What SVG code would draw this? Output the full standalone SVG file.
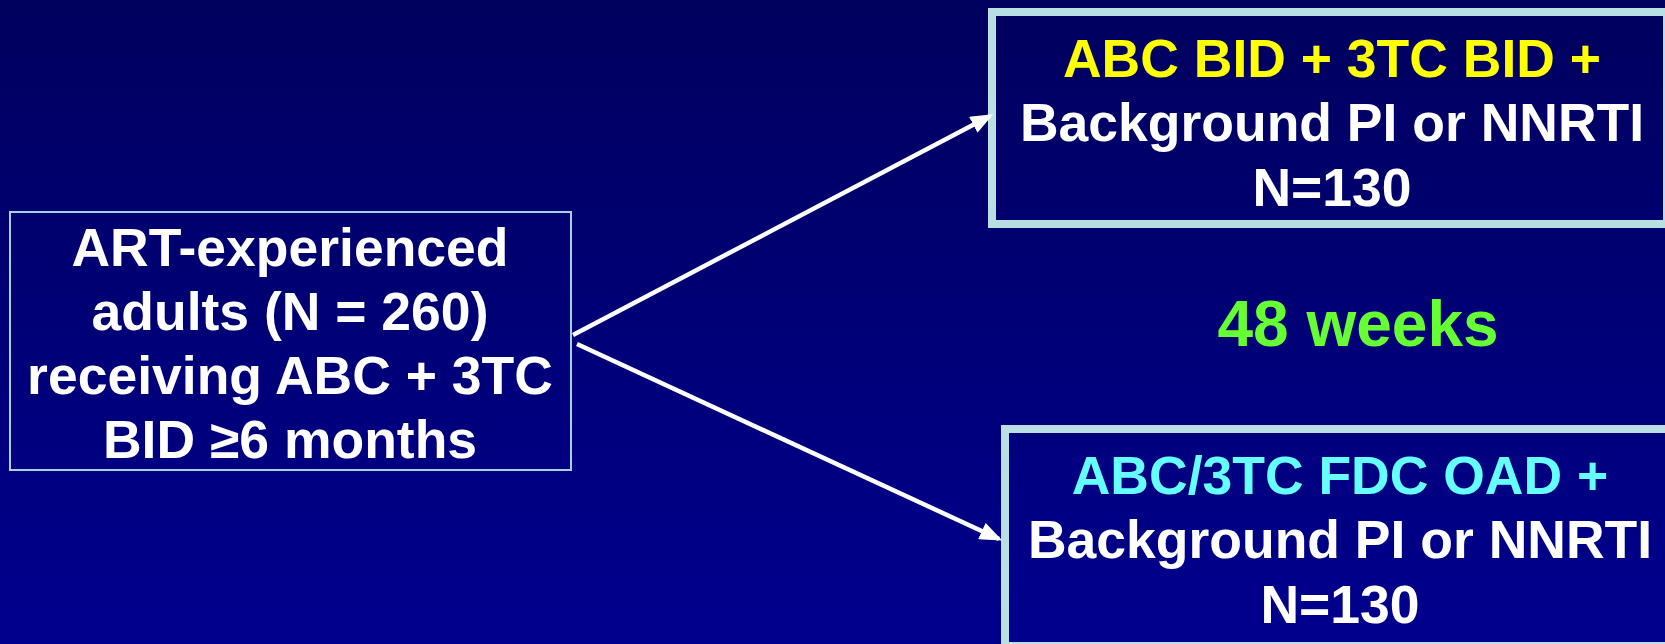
<svg xmlns="http://www.w3.org/2000/svg" width="1665" height="644" viewBox="0 0 1665 644">
  <defs>
    <linearGradient id="bg" x1="0" y1="0" x2="0" y2="1">
      <stop offset="0" stop-color="#00005E"/>
      <stop offset="1" stop-color="#00008E"/>
    </linearGradient>
    <marker id="arrow" markerWidth="5" markerHeight="4" refX="4.2" refY="2" orient="auto" markerUnits="strokeWidth">
      <path d="M0,0 L5,2 L0,4 Z" fill="#FFFFFF"/>
    </marker>
  </defs>
  <style>
    text { font-family: "Liberation Sans", Arial, sans-serif; font-weight: bold; text-anchor: middle; }
    .t { font-size: 53.5px; fill: #FFFFFF; }
    .yel { fill: #FFFF00; }
    .cyan { fill: #66FFFF; }
    .green { font-size: 64px; fill: #66FF33; }
    .thin { fill: none; stroke: #A8D0E4; stroke-width: 2; }
    .thick { fill: none; stroke: #B8E0E4; stroke-width: 8; }
    .conn { stroke: #FFFFFF; stroke-width: 4.5; fill: none; }
  </style>
  <rect x="0" y="0" width="1665" height="644" fill="url(#bg)"/>

  <g id="source">
    <rect class="thin" x="10" y="212" width="561" height="258"/>
    <text class="t" x="290" y="266">ART-experienced</text>
    <text class="t" x="290" y="330">adults (N = 260)</text>
    <text class="t" x="290" y="394">receiving ABC + 3TC</text>
    <text class="t" x="290" y="458">BID ≥6 months</text>
  </g>

  <g id="arm-bid">
    <rect class="thick" x="992" y="12" width="675" height="212"/>
    <text class="t yel" x="1332" y="77">ABC BID + 3TC BID +</text>
    <text class="t" x="1332" y="141">Background PI or NNRTI</text>
    <text class="t" x="1332" y="206">N=130</text>
  </g>

  <g id="duration">
    <text class="green" x="1358" y="346">48 weeks</text>
  </g>

  <g id="arm-oad">
    <rect class="thick" x="1005" y="429" width="670" height="217"/>
    <text class="t cyan" x="1340" y="494">ABC/3TC FDC OAD +</text>
    <text class="t" x="1340" y="558">Background PI or NNRTI</text>
    <text class="t" x="1340" y="623">N=130</text>
  </g>

  <g id="connectors">
    <line class="conn" x1="573" y1="335" x2="990" y2="116" marker-end="url(#arrow)"/>
    <line class="conn" x1="577" y1="344" x2="999" y2="539" marker-end="url(#arrow)"/>
  </g>
</svg>
